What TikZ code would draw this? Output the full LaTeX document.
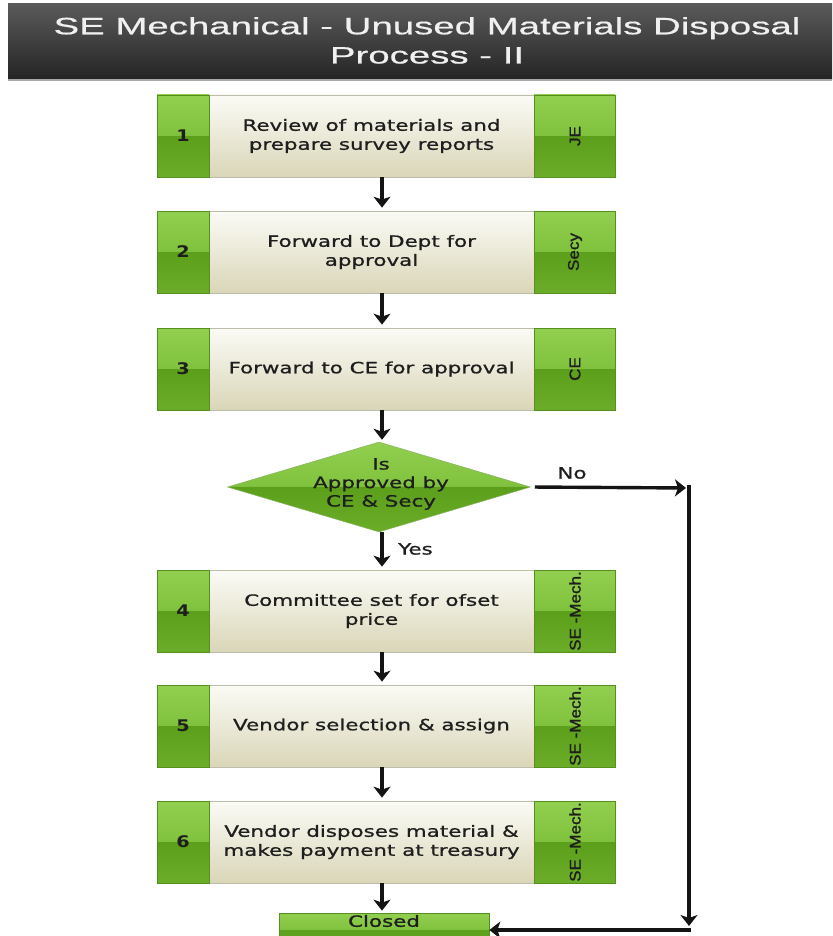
\documentclass[tikz,border=0pt]{standalone}
\usepackage{fontspec}
\setmainfont{DejaVu Sans}
\newfontfamily\titlefont[FakeStretch=1.62,FakeBold=0.6]{Liberation Sans}
\newfontfamily\stepfont[FakeStretch=1.38,FakeBold=0.9]{DejaVu Sans}
\newfontfamily\numfont[FakeStretch=1.2]{DejaVu Sans}
\newfontfamily\rolefont[FakeStretch=1.1,FakeBold=1.2]{Liberation Sans}
\usetikzlibrary{arrows.meta,shapes.geometric}

\definecolor{barTop}{HTML}{5A5A5A}
\definecolor{barBot}{HTML}{242424}
\definecolor{barLine}{HTML}{A8A8A8}
\definecolor{titleInk}{HTML}{F0F0F0}
\definecolor{tabTopA}{HTML}{92CF50}
\definecolor{tabTopB}{HTML}{80C23D}
\definecolor{tabLowA}{HTML}{5C9F1A}
\definecolor{tabLowB}{HTML}{6BAD29}
\definecolor{tabEdge}{HTML}{55901F}
\definecolor{creamTop}{HTML}{FBFBF6}
\definecolor{creamBot}{HTML}{DAD6B8}
\definecolor{creamEdge}{HTML}{BDBDAC}
\definecolor{ink}{HTML}{1E1E1E}

% glossy green: light upper half, darker lower half
\pgfdeclareverticalshading{glossgreen}{100bp}{%
  color(0bp)=(tabLowB); color(25bp)=(tabLowB); color(50bp)=(tabLowA);
  color(50.6bp)=(tabTopB); color(75bp)=(tabTopA); color(100bp)=(tabTopA)}

\tikzset{
  stepbody/.style={rectangle, draw=creamEdge, line width=0.7pt,
    top color=creamTop, bottom color=creamBot, inner sep=0pt,
    minimum width=325pt, align=center, text=ink,
    font=\stepfont\fontsize{15.5}{19}\selectfont},
  tab/.style={rectangle, draw=tabEdge, line width=0.7pt, shading=glossgreen,
    inner sep=0pt, text=ink},
  numtab/.style={tab, minimum width=52pt, font=\numfont\bfseries\fontsize{16}{18}\selectfont},
  roletab/.style={tab, minimum width=81pt},
  roletext/.style={rotate=90, inner sep=0pt, text=ink,
    font=\rolefont\fontsize{15.5}{17}\selectfont},
  decision/.style={diamond, shading=glossgreen, draw=tabEdge!70, line width=0.5pt,
    minimum width=303pt, minimum height=90pt, inner sep=0pt},
  plaintext/.style={inner sep=0pt, text=ink, align=center,
    font=\stepfont\fontsize{15.5}{18.5}\selectfont},
  titletext/.style={inner sep=0pt, text=titleInk,
    font=\titlefont\fontsize{23.7}{29}\selectfont},
  wire/.style={line width=3.4pt, draw=black!92},
  flow/.style={wire, -{Stealth[length=11pt,width=17pt,inset=3pt]}},
}

% name, top, bottom, number, description, role
\newcommand{\processstep}[6]{%
  \pgfmathsetmacro{\pctr}{(#2+#3)/2}%
  \pgfmathsetmacro{\phgt}{#3-#2}%
  \node[stepbody, minimum height=\phgt pt] (#1) at (371.5,\pctr) {#5};
  \node[numtab, minimum height=\phgt pt] (#1-n) at (183,\pctr) {#4};
  \node[roletab, minimum height=\phgt pt] (#1-r) at (574.5,\pctr) {};
  \node[roletext] (#1-rt) at (575,\pctr) {#6};
}

\begin{document}
\begin{tikzpicture}[x=1pt,y=-1pt]
  \path[use as bounding box, fill=white] (0,0) rectangle (832,936);
  \clip (0,0) rectangle (832,936);

  % heading bar
  \shade[top color=barTop, bottom color=barBot] (8,4) rectangle (832,79.5);
  \fill[barLine] (8,79.5) rectangle (832,81.5);
  \node[titletext, anchor=base] (title1) at (427,34.3) {SE Mechanical - Unused Materials Disposal};
  \node[titletext, anchor=base] (title2) at (427,63.5) {Process - II};

  % process steps
  \processstep{s1}{95}{177}{1}{Review of materials and\\prepare survey reports}{JE}
  \processstep{s2}{211}{293}{2}{Forward to Dept for\\approval}{Secy}
  \processstep{s3}{328}{410}{3}{Forward to CE for approval}{CE}
  \processstep{s4}{570}{652}{4}{Committee set for ofset\\price}{SE -Mech.}
  \processstep{s5}{685}{767}{5}{Vendor selection \& assign}{SE -Mech.}
  \processstep{s6}{801}{883}{6}{Vendor disposes material \&\\makes payment at treasury}{SE -Mech.}

  % decision
  \node[decision] (dec) at (379,487) {};
  \node[plaintext] (dec-t) at (381,484) {Is\\Approved by\\CE \& Secy};

  % end
  \node[tab, minimum width=210pt, minimum height=34pt] (closed) at (384,930) {};
  \node[plaintext] (closed-t) at (384,921) {Closed};

  % connectors
  \coordinate (ax) at (382,0);
  \coordinate (noR) at (689,488);
  \coordinate (noB) at (689,930);
  \draw[flow, shorten >=3pt] (s1.south -| ax) -- (s2.north -| ax);
  \draw[flow, shorten >=3pt] (s2.south -| ax) -- (s3.north -| ax);
  \draw[flow, shorten >=2pt] (s3.south -| ax) -- (dec.north -| ax);
  \draw[flow, shorten >=3pt] (dec.south -| ax) -- (s4.north -| ax);
  \draw[flow, shorten >=3pt] (s4.south -| ax) -- (s5.north -| ax);
  \draw[flow, shorten >=3pt] (s5.south -| ax) -- (s6.north -| ax);
  \draw[flow, shorten >=2pt] (s6.south -| ax) -- (closed.north -| ax);
  \draw[flow, shorten <=4pt, shorten >=3pt] (dec.east) -- (noR);
  \draw[wire] (noR) ++(0,-3) -- (noR);
  \draw[flow, shorten >=4pt] (noR) -- (noB);
  \draw[flow, shorten <=-1.7pt] (noB) -- (closed.east);

  % branch labels
  \node[plaintext, anchor=west] (yes) at (398,549) {Yes};
  \node[plaintext] (no) at (572,473) {No};
\end{tikzpicture}
\end{document}
